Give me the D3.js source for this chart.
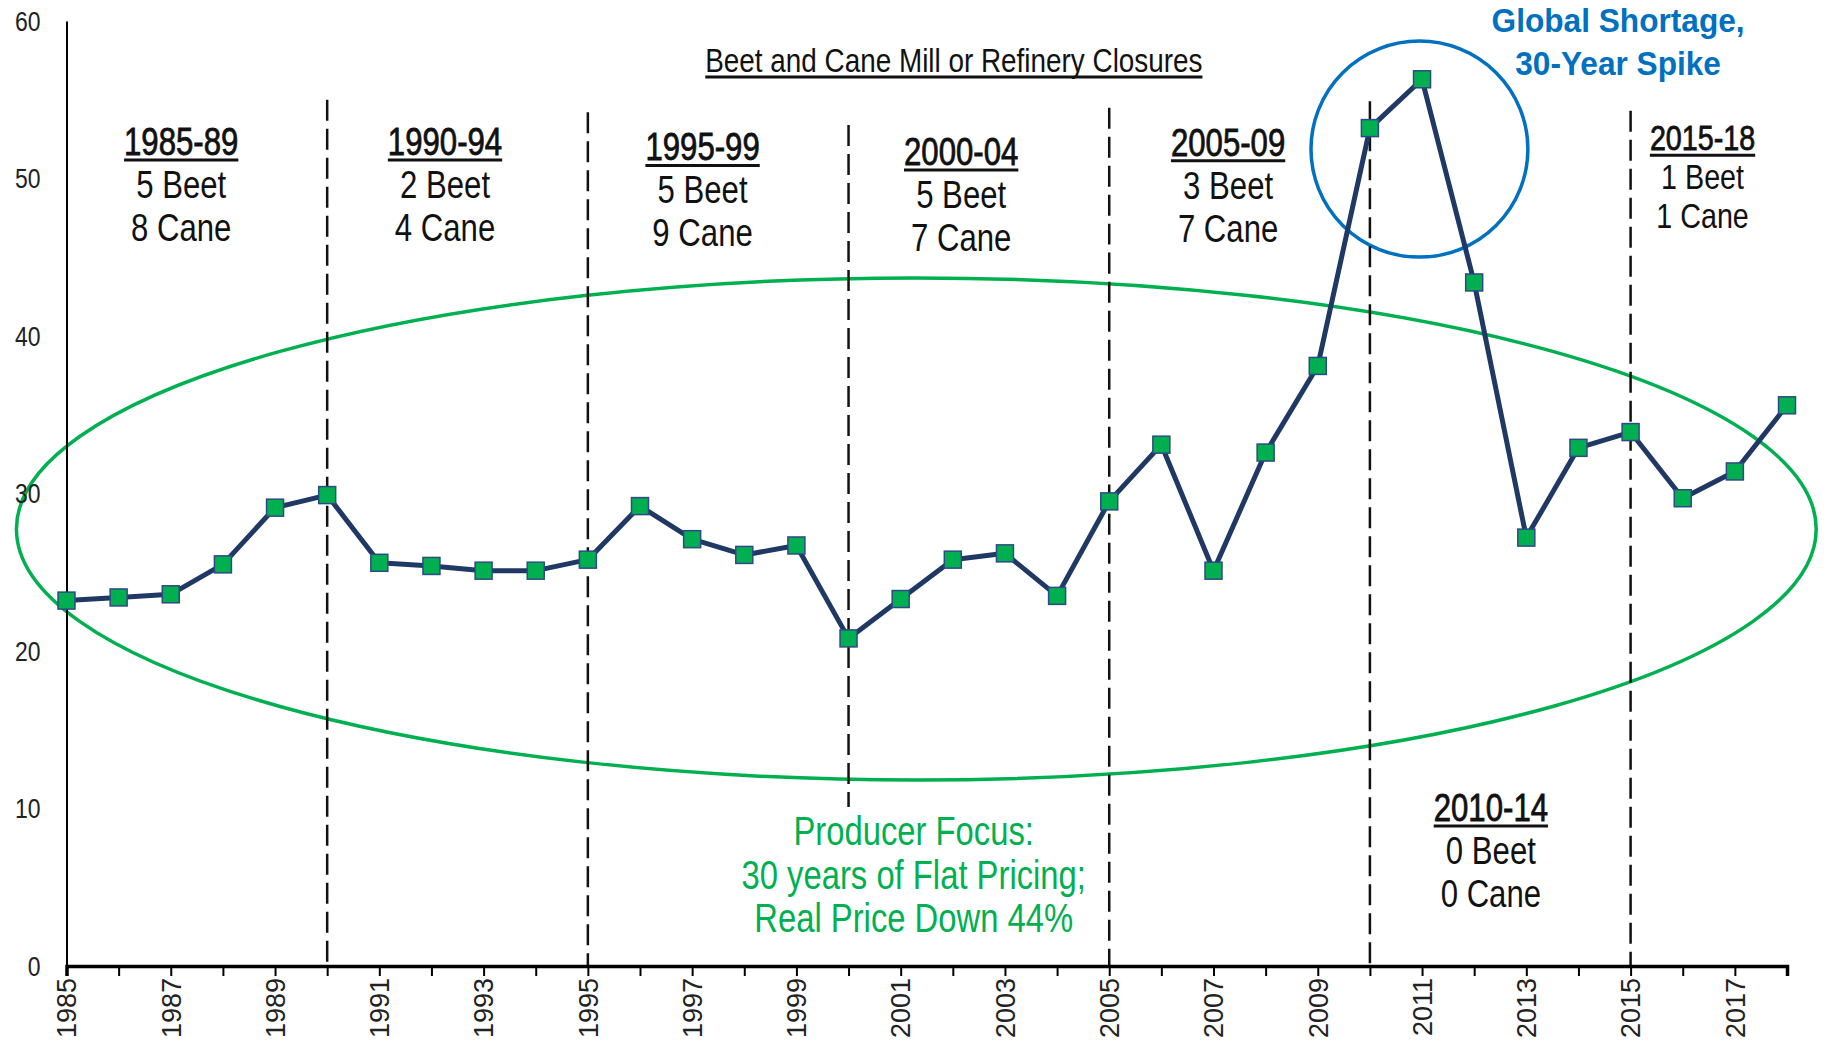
<!DOCTYPE html>
<html>
<head>
<meta charset="utf-8">
<script src="https://cdn.jsdelivr.net/npm/d3@7"></script>
<style>
html, body { margin: 0; padding: 0; background: #fff; overflow: hidden; }
svg { display: block; }
text { font-family: "Liberation Sans", Arial, sans-serif; }
</style>
</head>
<body>
<div class="container"></div>
<script>
// refined sugar price by year
const years = [1985, 1986, 1987, 1988, 1989, 1990, 1991, 1992, 1993, 1994, 1995, 1996,
  1997, 1998, 1999, 2000, 2001, 2002, 2003, 2004, 2005, 2006, 2007, 2008, 2009, 2010,
  2011, 2012, 2013, 2014, 2015, 2016, 2017, 2018];
const prices = [23.2, 23.4, 23.6, 25.5, 29.1, 29.9, 25.6, 25.4, 25.1, 25.1, 25.8, 29.2,
  27.1, 26.1, 26.7, 20.8, 23.3, 25.8, 26.2, 23.5, 29.5, 33.1, 25.1, 32.6, 38.1, 53.2,
  56.3, 43.4, 27.2, 32.9, 33.9, 29.7, 31.4, 35.6];
const yTicks = [0, 10, 20, 30, 40, 50, 60];
const xTickLabels = [1985, 1987, 1989, 1991, 1993, 1995, 1997, 1999, 2001, 2003, 2005,
  2007, 2009, 2011, 2013, 2015, 2017];

// closures per period
const periods = ["1985-89", "1990-94", "1995-99", "2000-04", "2005-09", "2010-14", "2015-18"];
const beetClosures = [5, 2, 5, 5, 3, 0, 1];
const caneClosures = [8, 4, 9, 7, 7, 0, 1];
const periodBreaks = [1990, 1995, 2000, 2005, 2010, 2015];

// where the period labels sit (year, value of header baseline)
const periodLabelX = [1987.2, 1992.26, 1997.2, 2002.16, 2007.28, 2012.32, 2016.38];
const periodLabelY = [51.5, 51.5, 51.15, 50.85, 51.45, 9.2, 51.8];
const breakTop = [55.0, 54.2, 53.4, 54.5, 54.9, 54.3];
const breakBottom = [0, 0, 10.1, 0, 0, 0];

const width = 1830, height = 1041;
const margin = {left: 66.5, right: 43, top: 21, bottom: 75};
const NARROW = 0.82; // squeeze Liberation Sans to look like Arial Narrow

const svg = d3.select(".container").append("svg")
  .attr("width", width)
  .attr("height", height)
  .style("background", "#fff");

const x = d3.scaleLinear()
  .domain([1985, 2018])
  .range([margin.left, width - margin.right]);
const y = d3.scaleLinear()
  .domain([0, 60])
  .range([height - margin.bottom, margin.top]);

// green ellipse (drawn first, behind)
svg.append("ellipse")
  .attr("cx", x(2001.3))
  .attr("cy", y(27.75))
  .attr("rx", x(1985 + 17.26) - x(1985))
  .attr("ry", y(0) - y(15.94))
  .attr("fill", "none")
  .attr("stroke", "#00B050")
  .attr("stroke-width", 3.5);

// blue circle around the spike
svg.append("ellipse")
  .attr("cx", x(2010.95))
  .attr("cy", y(51.87))
  .attr("rx", x(1985 + 2.08) - x(1985))
  .attr("ry", y(0) - y(6.86))
  .attr("fill", "none")
  .attr("stroke", "#0070C0")
  .attr("stroke-width", 3.5);

// dashed period separators
svg.selectAll("line.brk")
  .data(periodBreaks)
  .enter()
  .append("line")
  .attr("class", "brk")
  .attr("x1", d => x(d))
  .attr("x2", d => x(d))
  .attr("y1", (d, i) => y(breakTop[i]))
  .attr("y2", (d, i) => y(breakBottom[i]))
  .attr("stroke", "#111")
  .attr("stroke-width", 2.5)
  .attr("stroke-dasharray", "21,8");

// y axis
const yAxis = svg.append("g")
  .attr("transform", `translate(${margin.left},0)`)
  .call(d3.axisLeft(y).tickValues(yTicks).tickSize(0).tickFormat(""));
yAxis.select(".domain").attr("stroke", "#000").attr("stroke-width", 2);

svg.append("g")
  .selectAll("text")
  .data(yTicks)
  .enter()
  .append("text")
  .attr("transform", d => `translate(${margin.left - 26},${y(d)}) scale(${NARROW},1)`)
  .attr("text-anchor", "end")
  .attr("dy", "0.35em")
  .style("font-size", "28px")
  .attr("fill", "#222")
  .text(d => d);

// x axis
const xAxis = svg.append("g")
  .attr("transform", `translate(0,${y(0)})`)
  .call(d3.axisBottom(x).tickValues(years).tickSize(10).tickFormat(""));
xAxis.select(".domain").attr("stroke", "#000").attr("stroke-width", 3.5);
xAxis.selectAll(".tick line").attr("stroke", "#000").attr("stroke-width", 2);

svg.append("g")
  .selectAll("text")
  .data(xTickLabels)
  .enter()
  .append("text")
  .attr("transform", d => `translate(${x(d)},${y(0) + 12}) rotate(-90)`)
  .attr("text-anchor", "end")
  .attr("dy", "0.36em")
  .style("font-size", "27px")
  .attr("fill", "#222")
  .text(d => d);

// price line
const line = d3.line()
  .x((d, i) => x(years[i]))
  .y(d => y(d));
svg.append("path")
  .datum(prices)
  .attr("d", line)
  .attr("fill", "none")
  .attr("stroke", "#203864")
  .attr("stroke-width", 5)
  .attr("stroke-linejoin", "round");

svg.selectAll("rect.pt")
  .data(prices)
  .enter()
  .append("rect")
  .attr("class", "pt")
  .attr("x", (d, i) => x(years[i]) - 8.5)
  .attr("y", d => y(d) - 8.5)
  .attr("width", 17)
  .attr("height", 17)
  .attr("fill", "#00B050")
  .attr("stroke", "#2E4A86")
  .attr("stroke-width", 1.5);

// text helper: squeezed text with optional thick underline
function label(txt, cx, by, size, color, opts) {
  opts = opts || {};
  const sx = opts.sx || NARROW;
  const t = svg.append("text")
    .attr("transform", `translate(${cx},${by}) scale(${sx},1)`)
    .attr("text-anchor", "middle")
    .style("font-size", size + "px")
    .style("font-weight", opts.bold ? "bold" : "normal")
    .attr("fill", color)
    .text(txt);
  if (opts.heavy) {
    t.attr("stroke", color).attr("stroke-width", 0.8);
  }
  if (opts.underline) {
    const w = t.node().getComputedTextLength() * sx;
    svg.append("line")
      .attr("x1", cx - w / 2).attr("x2", cx + w / 2)
      .attr("y1", by + 5).attr("y2", by + 5)
      .attr("stroke", color)
      .attr("stroke-width", 3);
  }
  return t;
}

label("Beet and Cane Mill or Refinery Closures", x(2002.02), y(56.76), 34, "#111", {underline: true});

periods.forEach((p, i) => {
  const small = i === periods.length - 1;
  const size = small ? 35 : 38;
  const step = small ? 39 : 43;
  const cx = x(periodLabelX[i]);
  const by = y(periodLabelY[i]);
  label(p, cx, by, size, "#111", {underline: true, heavy: true});
  label(beetClosures[i] + " Beet", cx, by + step, size, "#111");
  label(caneClosures[i] + " Cane", cx, by + step * 2, size, "#111");
});

// spike callout
label("Global Shortage,", x(2014.76), y(59.3), 34, "#0070C0", {bold: true, sx: 0.93});
label("30-Year Spike", x(2014.76), y(56.6), 34, "#0070C0", {bold: true, sx: 0.93});

// producer focus callout
const focus = ["Producer Focus:", "30 years of Flat Pricing;", "Real Price Down 44%"];
focus.forEach((s, i) => {
  label(s, x(2001.25), y(7.68) + i * 43.5, 40, "#00B050");
});
</script>
</body>
</html>
